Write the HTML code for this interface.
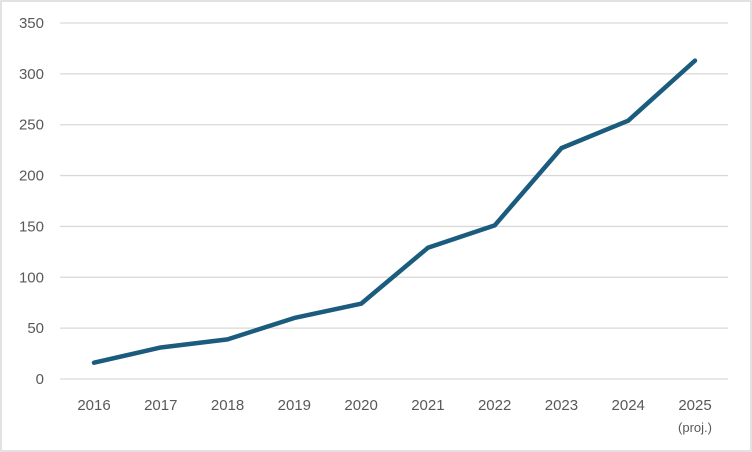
<!DOCTYPE html>
<html><head><meta charset="utf-8"><style>
html,body{margin:0;padding:0;background:#fff}
svg{display:block;font-family:"Liberation Sans",sans-serif}
</style></head><body>
<svg width="752" height="452">
<rect x="1" y="1" width="750" height="450" fill="#fff" stroke="#d9d9d9" stroke-width="1.5"/>
<g id="grid"></g><g id="ylabels"></g><g id="xlabels"></g><g id="series"></g>
</svg>
<script>
const categories=["2016","2017","2018","2019","2020","2021","2022","2023","2024","2025"];
const values=[16,31,39,60,74,129,151,227,254,313];
const yTicks=[0,50,100,150,200,250,300,350];
const ns="http://www.w3.org/2000/svg";
const x0=94,dx=(695-94)/9,yBase=379,yTop=23,yMax=350;
const xs=i=>x0+i*dx, ys=v=>yBase-(v/yMax)*(yBase-yTop);
const g=document.getElementById('grid'),yl=document.getElementById('ylabels'),xl=document.getElementById('xlabels'),s=document.getElementById('series');
yTicks.forEach(t=>{
 const l=document.createElementNS(ns,'line');
 
 
 l.setAttribute('x1',60);l.setAttribute('x2',728);l.setAttribute('y1',ys(t));l.setAttribute('y2',ys(t));
 l.setAttribute('stroke','#d9d9d9');l.setAttribute('stroke-width','1.3');g.appendChild(l);
 const tx=document.createElementNS(ns,'text');
 
 
 tx.setAttribute('x',44);tx.setAttribute('y',ys(t)+5);tx.setAttribute('text-anchor','end');
 tx.setAttribute('font-size','15');tx.setAttribute('fill','#595959');tx.textContent=t;yl.appendChild(tx);
});
categories.forEach((c,i)=>{
 const tx=document.createElementNS(ns,'text');
 
 
 tx.setAttribute('x',xs(i));tx.setAttribute('y',410);tx.setAttribute('text-anchor','middle');
 tx.setAttribute('font-size','15');tx.setAttribute('fill','#595959');tx.textContent=c;xl.appendChild(tx);
});
const pj=document.createElementNS(ns,'text');


pj.setAttribute('x',xs(9));pj.setAttribute('y',432);pj.setAttribute('text-anchor','middle');
pj.setAttribute('font-size','13');pj.setAttribute('fill','#595959');pj.textContent='(proj.)';xl.appendChild(pj);
const p=document.createElementNS(ns,'polyline');


p.setAttribute('points',values.map((v,i)=>xs(i)+','+ys(v)).join(' '));
p.setAttribute('fill','none');p.setAttribute('stroke','#1b5c7e');p.setAttribute('stroke-width','4.5');
p.setAttribute('stroke-linejoin','round');p.setAttribute('stroke-linecap','round');s.appendChild(p);
</script>
</body></html>
